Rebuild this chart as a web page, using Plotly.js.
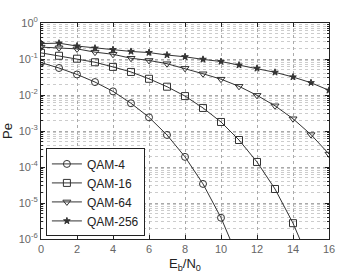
<!DOCTYPE html>
<html>
<head>
<meta charset="utf-8">
<script src="https://cdn.plot.ly/plotly-3.0.1.min.js"></script>
<style>html,body{margin:0;padding:0;background:#fff;}#chart{width:352px;height:280px;}</style>
</head>
<body>
<div id="chart"></div>
<script>
// Eb/N0 (dB)
var ebn0 = [0,1,2,3,4,5,6,7,8,9,10,11,12,13,14,15,16];
var seriesNames = ["QAM-4","QAM-16","QAM-64","QAM-256"];
var qam4   = [0.0794,0.0562,0.0372,0.0229,0.0126,0.00589,0.0024,7.76e-4,1.91e-4,3.39e-5,3.89e-6,2.57e-7];
var qam16  = [0.148,0.123,0.102,0.0813,0.0603,0.0437,0.0282,0.0170,0.00933,0.00437,0.00178,5.62e-4,1.38e-4,2.45e-5,2.75e-6,1.86e-7];
var qam64  = [0.214,0.204,0.191,0.155,0.135,0.105,0.0912,0.0741,0.0550,0.0389,0.0275,0.0174,0.00977,0.00501,0.00219,7.94e-4,2.29e-4];
var qam256 = [0.269,0.275,0.229,0.200,0.182,0.162,0.151,0.129,0.115,0.0977,0.0851,0.0676,0.0550,0.0427,0.0316,0.0219,0.0135];
var xTicks = [0,2,4,6,8,10,12,14,16];
var yTickVals = [1,0.1,0.01,0.001,1e-4,1e-5,1e-6];
var yTickText = ["10<sup>0</sup>","10<sup>-1</sup>","10<sup>-2</sup>","10<sup>-3</sup>","10<sup>-4</sup>","10<sup>-5</sup>","10<sup>-6</sup>"];

var allY = [qam4, qam16, qam64, qam256];
var symbols = ["circle-open","square-open","triangle-down-open","star"];
var sizes = [7,7,7,5];
var traces = allY.map(function(ys, i){
  return {
    x: ebn0.slice(0, ys.length), y: ys, name: seriesNames[i],
    type: "scatter", mode: "lines+markers",
    line: {color: "#333", width: 1},
    marker: {symbol: symbols[i], size: sizes[i], color: "#333", line: {color: "#333", width: 1}},
    cliponaxis: true
  };
});

var axisCommon = {
  showline: true, mirror: "ticks", linecolor: "#222", linewidth: 1,
  ticks: "inside", ticklen: 4, tickcolor: "#222",
  showgrid: true, gridcolor: "#aaa", griddash: "dot", gridwidth: 1,
  zeroline: false, tickfont: {family: "Liberation Sans, Arial, sans-serif", size: 11, color: "#666"}
};

var layout = {
  width: 352, height: 280,
  margin: {l: 41, r: 23, t: 23, b: 41},
  paper_bgcolor: "#fff", plot_bgcolor: "#fff",
  showlegend: true,
  legend: {x: 0.017, y: 0.012, xanchor: "left", yanchor: "bottom",
    bgcolor: "#fff", bordercolor: "#222", borderwidth: 1,
    font: {family: "Liberation Sans, Arial, sans-serif", size: 12, color: "#222"},
    tracegroupgap: 0, itemwidth: 30},
  xaxis: Object.assign({}, axisCommon, {
    range: [0, 16], tickvals: xTicks, ticktext: xTicks.map(String),
    title: {text: "E<sub>b</sub>/N<sub>0</sub>", standoff: 4,
      font: {family: "Liberation Sans, Arial, sans-serif", size: 13, color: "#222"}}
  }),
  yaxis: Object.assign({}, axisCommon, {
    type: "log", range: [-6, 0], tickvals: yTickVals, ticktext: yTickText,
    minor: {ticks: "inside", ticklen: 2, tickcolor: "#222", showgrid: true, gridcolor: "#ccc", griddash: "dot", dtick: "D1"},
    title: {text: "Pe", standoff: 4,
      font: {family: "Liberation Sans, Arial, sans-serif", size: 13, color: "#222"}}
  })
};

Plotly.newPlot("chart", traces, layout, {displayModeBar: false, staticPlot: true});
</script>
</body>
</html>
